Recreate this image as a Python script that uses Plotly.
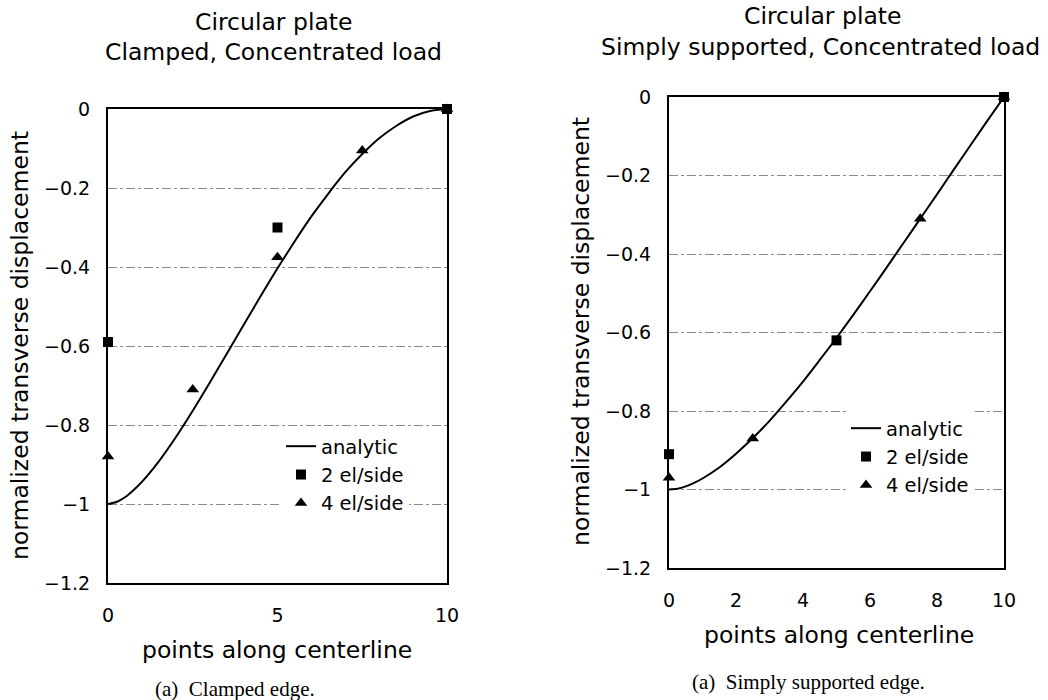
import plotly.graph_objects as go

# ---------------- data ----------------
x_analytic = [0, 0.25, 0.5, 0.75, 1, 1.5, 2, 2.5, 3, 3.5, 4, 4.5, 5, 5.5, 6, 6.5, 7, 7.5, 8, 8.5, 9, 9.5, 10]
clamped_analytic = [-1.0, -0.995, -0.983, -0.965, -0.944, -0.892, -0.831, -0.764, -0.693, -0.620, -0.547, -0.474,
                    -0.403, -0.336, -0.272, -0.214, -0.160, -0.114, -0.074, -0.043, -0.019, -0.005, 0.0]
simply_analytic = [-1.0, -0.998, -0.992, -0.983, -0.972, -0.944, -0.909, -0.869, -0.825, -0.776, -0.725, -0.670,
                   -0.614, -0.555, -0.495, -0.434, -0.372, -0.310, -0.248, -0.185, -0.123, -0.061, 0.0]

x_2el = [0, 5, 10]
clamped_2el = [-0.59, -0.30, 0.0]
simply_2el = [-0.91, -0.62, 0.0]

x_4el = [0, 2.5, 5, 7.5, 10]
clamped_4el = [-0.88, -0.71, -0.375, -0.105, 0.0]
x_4el_s = [0, 2.5, 7.5, 10]
simply_4el = [-0.97, -0.87, -0.31, 0.0]

y_ticks = [0, -0.2, -0.4, -0.6, -0.8, -1.0, -1.2]
x_ticks_left = [0, 5, 10]
x_ticks_right = [0, 2, 4, 6, 8, 10]

# ---------------- layout helpers ----------------
W, H = 1048, 700
FONT = "DejaVu Sans"

def px(x):
    return x / W

def py(y):
    return 1 - y / H

fig = go.Figure()

def add_panel(xa, ya, legend, ya_line, y2, y4, x4):
    fig.add_trace(go.Scatter(x=x_analytic, y=ya_line, mode="lines", name="analytic",
                             line=dict(color="black", width=2, shape="spline", smoothing=0.6),
                             xaxis=xa, yaxis=ya, legend=legend, cliponaxis=False))
    fig.add_trace(go.Scatter(x=x_2el, y=y2, mode="markers", name="2 el/side",
                             marker=dict(symbol="square", size=10, color="black"),
                             xaxis=xa, yaxis=ya, legend=legend, cliponaxis=False))
    fig.add_trace(go.Scatter(x=x4, y=y4, mode="markers", name="4 el/side",
                             marker=dict(symbol="triangle-up", size=11, color="black"),
                             xaxis=xa, yaxis=ya, legend=legend, cliponaxis=False))

add_panel("x", "y", "legend", clamped_analytic, clamped_2el, clamped_4el, x_4el)
add_panel("x2", "y2", "legend2", simply_analytic, simply_2el, simply_4el, x_4el_s)

axis_common = dict(showline=True, linecolor="black", linewidth=2, mirror=True,
                   ticks="", zeroline=False, automargin=False,
                   tickfont=dict(family=FONT, size=19, color="black"))
grid_y = dict(showgrid=True, gridcolor="#8a8a8a", gridwidth=1, griddash="dashdot")

fig.update_layout(
    width=W, height=H,
    margin=dict(l=0, r=0, t=0, b=0, autoexpand=False),
    paper_bgcolor="white", plot_bgcolor="white",
    font=dict(family=FONT, color="black"),
    showlegend=True,
    xaxis=dict(domain=[px(108), px(447)], range=[0, 10], tickvals=x_ticks_left,
               showgrid=False, anchor="y", ticklabelstandoff=14, **axis_common),
    yaxis=dict(domain=[py(583), py(109)], range=[-1.2, 0], tickvals=y_ticks,
               anchor="x", ticklabelstandoff=12, **grid_y, **axis_common),
    xaxis2=dict(domain=[px(669), px(1004)], range=[0, 10], tickvals=x_ticks_right,
                showgrid=False, anchor="y2", ticklabelstandoff=14, **axis_common),
    yaxis2=dict(domain=[py(568), py(97)], range=[-1.2, 0], tickvals=y_ticks,
                anchor="x2", ticklabelstandoff=12, **grid_y, **axis_common),
    legend=dict(x=px(281), y=py(427), xanchor="left", yanchor="top",
                bgcolor="white", borderwidth=0, font=dict(family=FONT, size=19.5),
                itemwidth=30, tracegroupgap=0),
    legend2=dict(x=px(846), y=py(409), xanchor="left", yanchor="top",
                 bgcolor="white", borderwidth=0, font=dict(family=FONT, size=19.5),
                 itemwidth=30, tracegroupgap=0),
)

def ann(text, x, y, size, family=FONT, angle=0):
    fig.add_annotation(text=text, x=px(x), y=py(y), xref="paper", yref="paper",
                       xanchor="center", yanchor="middle", showarrow=False,
                       textangle=angle, font=dict(family=family, size=size, color="black"))

ann("Circular plate", 273, 22, 23.5)
ann("Clamped, Concentrated load", 273, 52, 23.5)
ann("Circular plate", 822, 16, 23.5)
ann("Simply supported, Concentrated load", 820, 47, 23.5)
ann("normalized transverse displacement", 20, 346, 23.5, angle=-90)
ann("normalized transverse displacement", 581, 332, 23.5, angle=-90)
ann("points along centerline", 277, 650, 23.5)
ann("points along centerline", 839, 635, 23.5)
ann("(a)  Clamped edge.", 235, 689, 21, family="Liberation Serif")
ann("(a)  Simply supported edge.", 808, 682, 21, family="Liberation Serif")

fig.write_html("out.html", config={"displayModeBar": False},
               post_script="document.body.style.margin='0';")
